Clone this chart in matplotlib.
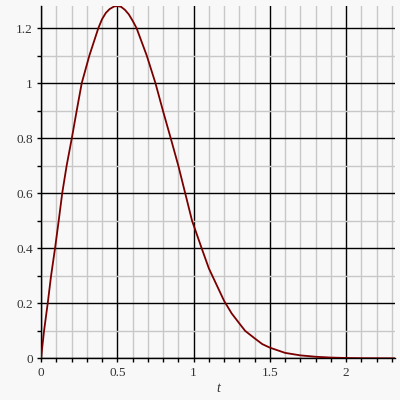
import numpy as np
import matplotlib
matplotlib.use("Agg")
import matplotlib.pyplot as plt
from matplotlib.ticker import MultipleLocator, FixedFormatter, FixedLocator

# values
t_vals = [0.0, 0.02, 0.044, 0.066, 0.092, 0.116, 0.139, 0.168, 0.202, 0.234,
          0.267, 0.317, 0.376, 0.4, 0.425, 0.45, 0.478, 0.5, 0.525, 0.55,
          0.575, 0.6, 0.626, 0.693, 0.75, 0.799, 0.85, 0.90, 0.945, 0.99,
          1.053, 1.1, 1.2, 1.25, 1.3, 1.338, 1.4, 1.45, 1.5,
          1.6, 1.7, 1.8, 1.9, 2.0, 2.1, 2.32]
y_vals = [0.0, 0.1, 0.2, 0.3, 0.4, 0.5, 0.6, 0.7, 0.8, 0.9,
          1.0, 1.1, 1.2, 1.232, 1.255, 1.269, 1.278, 1.28, 1.277, 1.266,
          1.25, 1.227, 1.2, 1.1, 1.0, 0.9, 0.8, 0.7, 0.6, 0.5,
          0.4, 0.327, 0.209, 0.163, 0.127, 0.1, 0.073, 0.052, 0.039,
          0.02, 0.011, 0.006, 0.003, 0.0015, 0.0007, 0.0001]

x_ticks = [0, 0.5, 1, 1.5, 2]
x_labels = ["0", "0.5", "1", "1.5", "2"]
y_ticks = [0, 0.2, 0.4, 0.6, 0.8, 1.0, 1.2]
y_labels = ["0", "0.2", "0.4", "0.6", "0.8", "1", "1.2"]

bg = "#f8f8f8"
fig = plt.figure(figsize=(4, 4), dpi=100, facecolor=bg)
ax = fig.add_axes([0.1025, 0.104, 0.885, 0.881], facecolor=bg)

ax.plot(t_vals, y_vals, color="#7a0000", lw=1.3, zorder=5)

ax.set_xlim(0, 2.32)
ax.set_ylim(0, 1.28)

ax.xaxis.set_major_locator(FixedLocator(x_ticks))
ax.xaxis.set_major_formatter(FixedFormatter(x_labels))
ax.yaxis.set_major_locator(FixedLocator(y_ticks))
ax.yaxis.set_major_formatter(FixedFormatter(y_labels))
ax.xaxis.set_minor_locator(MultipleLocator(0.1))
ax.yaxis.set_minor_locator(MultipleLocator(0.1))

ax.grid(which="minor", color="#c8c8c8", lw=1.0)
ax.grid(which="major", color="black", lw=1.0)
ax.set_axisbelow(True)

for s in ["top", "right"]:
    ax.spines[s].set_visible(False)
for s in ["left", "bottom"]:
    ax.spines[s].set_color("black")
    ax.spines[s].set_linewidth(1.0)

ax.tick_params(which="both", direction="out", length=3, width=1, color="black")
ax.tick_params(which="major", labelsize=9.5, pad=3)
for lab in ax.get_xticklabels() + ax.get_yticklabels():
    lab.set_family("Liberation Serif")
    lab.set_color("#333333")

ax.set_xlabel("t", family="Liberation Serif", style="italic", fontsize=10,
              labelpad=2, color="#333333")

fig.savefig("out.png", dpi=100, facecolor=bg)
